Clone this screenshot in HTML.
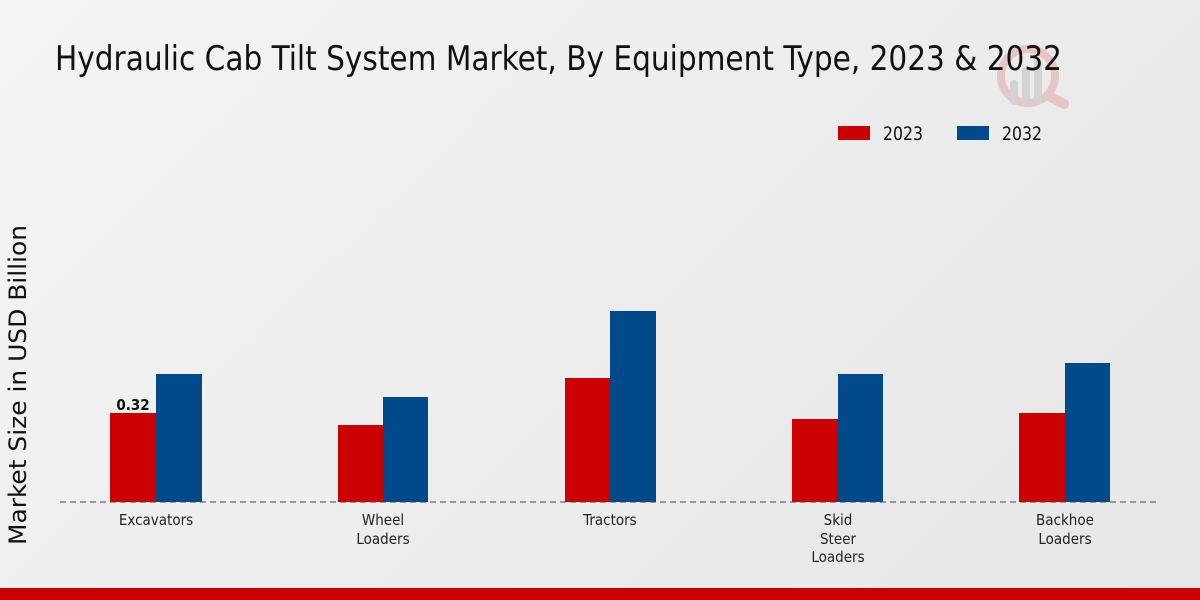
<!DOCTYPE html>
<html><head><style>
body{margin:0;width:1200px;height:600px;overflow:hidden;background:linear-gradient(135deg,#f4f4f4,#e6e6e6);font-family:"DejaVu Sans Condensed","Liberation Sans Narrow","Liberation Sans",sans-serif;}
</style></head><body>
<svg width="1200" height="600" xmlns="http://www.w3.org/2000/svg" style="position:absolute;left:0;top:0">
<g opacity="0.5">
<circle cx="1028" cy="76" r="27" fill="none" stroke="#e0a0a0" stroke-width="8"/>
<line x1="1049" y1="96" x2="1064" y2="104" stroke="#e0a0a0" stroke-width="10" stroke-linecap="round"/>
<rect x="1010" y="80" width="8" height="25" rx="4" fill="#bbb"/>
<rect x="1022" y="67" width="8" height="38" rx="4" fill="#bbb"/>
<rect x="1034" y="60" width="8" height="45" rx="4" fill="#bbb"/>
</g>
<text x="55" y="70" font-size="34" textLength="1007" lengthAdjust="spacingAndGlyphs" fill="#111">Hydraulic Cab Tilt System Market, By Equipment Type, 2023 &amp; 2032</text>
<rect x="838" y="126" width="32" height="14" fill="#cc0000"/>
<text x="883" y="140" font-size="19" textLength="40" lengthAdjust="spacingAndGlyphs" fill="#111">2023</text>
<rect x="957" y="126" width="32" height="14" fill="#004a8c"/>
<text x="1002" y="140" font-size="19" textLength="40" lengthAdjust="spacingAndGlyphs" fill="#111">2032</text>
<text transform="translate(26,385) rotate(-90)" font-size="24" text-anchor="middle" textLength="320" lengthAdjust="spacingAndGlyphs" fill="#111">Market Size in USD Billion</text>
<g fill="#cc0000">
<rect x="110" y="413" width="46" height="89"/>
<rect x="338" y="425" width="45" height="77"/>
<rect x="565" y="378" width="45" height="124"/>
<rect x="792" y="419" width="46" height="83"/>
<rect x="1019" y="413" width="46" height="89"/>
</g>
<g fill="#004a8c">
<rect x="156" y="374" width="46" height="128"/>
<rect x="383" y="397" width="45" height="105"/>
<rect x="610" y="311" width="46" height="191"/>
<rect x="838" y="374" width="45" height="128"/>
<rect x="1065" y="363" width="45" height="139"/>
</g>
<line x1="60" y1="502" x2="1160" y2="502" stroke="#444" stroke-dasharray="6,4" stroke-width="1"/>
<text x="133" y="410" font-size="15" font-weight="bold" text-anchor="middle" fill="#111">0.32</text>
<g font-size="15" text-anchor="middle" fill="#222">
<text x="156" y="525">Excavators</text>
<text x="383" y="525">Wheel</text><text x="383" y="544">Loaders</text>
<text x="610" y="525">Tractors</text>
<text x="838" y="525">Skid</text><text x="838" y="544">Steer</text><text x="838" y="562">Loaders</text>
<text x="1065" y="525">Backhoe</text><text x="1065" y="544">Loaders</text>
</g>
<rect x="0" y="588" width="1200" height="12" fill="#cc0000"/>
</svg>
</body></html>
